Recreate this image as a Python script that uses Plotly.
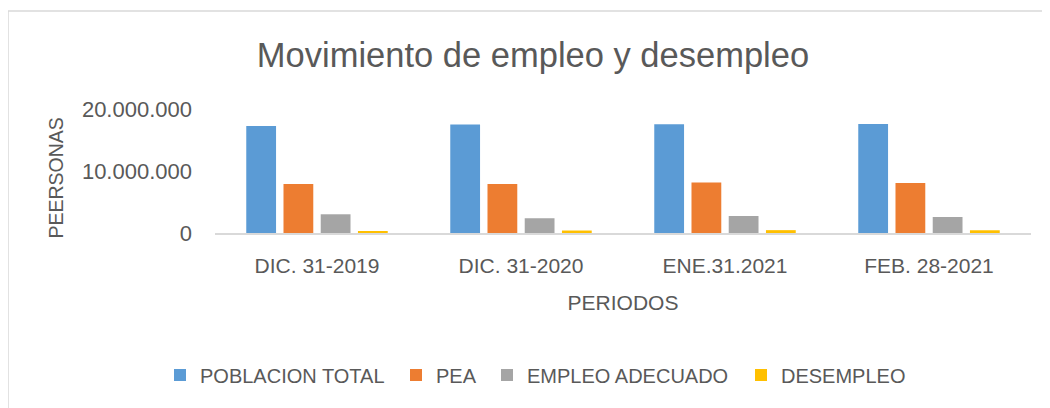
import plotly.graph_objects as go

periodos = ["DIC. 31-2019", "DIC. 31-2020", "ENE.31.2021", "FEB. 28-2021"]
poblacion_total = [17270000, 17480000, 17560000, 17570000]
pea = [7900000, 7900000, 8150000, 8060000]
empleo_adecuado = [3020000, 2380000, 2740000, 2580000]
desempleo = [310000, 400000, 460000, 440000]

series = [
    ("POBLACION TOTAL", poblacion_total, "#5B9BD5"),
    ("PEA", pea, "#ED7D31"),
    ("EMPLEO ADECUADO", empleo_adecuado, "#A5A5A5"),
    ("DESEMPLEO", desempleo, "#FFC000"),
]

FONT = "Liberation Sans"
TXT = "#595959"
OFF = 8  # page body margin

W, H = 1050 - OFF, 408 - OFF
L, T = 215 - OFF, 109 - OFF
plot_right, plot_bottom = 1031 - OFF, 233 - OFF
R, B = W - plot_right, H - plot_bottom
pw, ph = W - L - R, H - T - B

def px(x):
    return (x - OFF - L) / pw

def py(y):
    return (H - B - (y - OFF)) / ph

legend_text_left = [200, 436, 527, 781]
legend_names = ["legend", "legend2", "legend3", "legend4"]

fig = go.Figure()
for (name, vals, col), lg in zip(series, legend_names):
    fig.add_trace(go.Bar(x=periodos, y=vals, name=name, marker_color=col,
                         marker_line_width=0, legend=lg))

legend_cfg = {}
for lg, tx in zip(legend_names, legend_text_left):
    legend_cfg[lg] = dict(orientation="h", x=px(tx - 40), xanchor="left",
                          y=py(375), yanchor="middle",
                          font=dict(size=20, color=TXT, family=FONT), itemwidth=30,
                          bgcolor="rgba(0,0,0,0)")

fig.update_layout(
    width=W, height=H,
    margin=dict(l=L, r=R, t=T, b=B, autoexpand=False),
    paper_bgcolor="white", plot_bgcolor="white",
    font=dict(family=FONT, color=TXT),
    title=dict(text="Movimiento de empleo y desempleo", x=(533 - OFF) / W, xanchor="center",
               xref="container", y=1 - (55 - OFF) / H, yanchor="middle", yref="container",
               font=dict(size=34.5, color=TXT, family=FONT)),
    barmode="group", bargap=0.27, bargroupgap=0.2,
    showlegend=True,
    **legend_cfg,
    xaxis=dict(showgrid=False, showline=True, linecolor="#D9D9D9", linewidth=1.5,
               ticks="", tickfont=dict(size=21, color=TXT), ticklabelstandoff=13,
               title=dict(text="PERIODOS", font=dict(size=21, color=TXT), standoff=19)),
    yaxis=dict(range=[0, 20000000], tickvals=[0, 10000000, 20000000],
               ticktext=["0", "10.000.000", "20.000.000"],
               showgrid=False, zeroline=False, showline=False, ticks="",
               tickfont=dict(size=22, color=TXT), ticklabelstandoff=22),
    annotations=[dict(text="PEERSONAS", textangle=-90, xref="paper", yref="paper",
                      x=px(55), y=py(178.5), xanchor="center", yanchor="middle",
                      showarrow=False, font=dict(size=19.5, color=TXT, family=FONT))],
    shapes=[dict(type="rect", xref="paper", yref="paper",
                 x0=px(8), x1=px(1049), y0=py(420), y1=py(11),
                 line=dict(color="#D9D9D9", width=1.5), fillcolor="rgba(0,0,0,0)",
                 layer="below")],
)

fig.write_html("out.html")
